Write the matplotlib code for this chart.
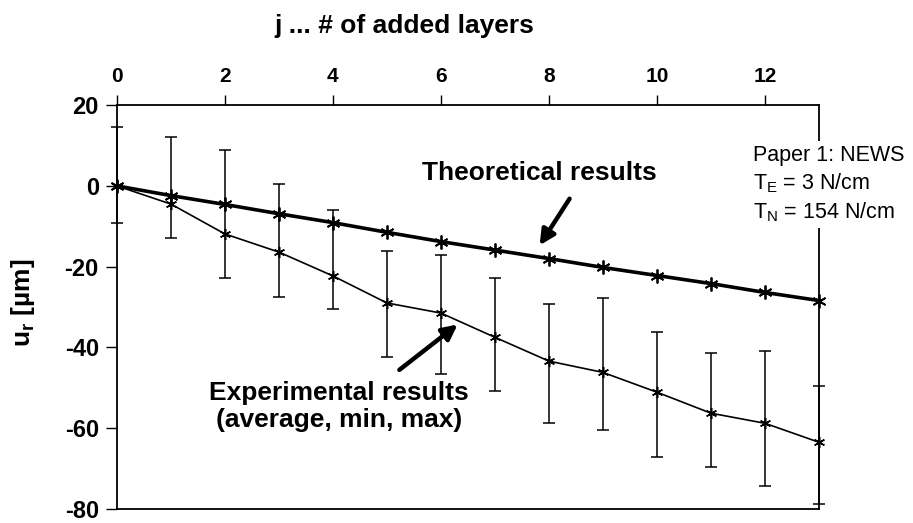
import numpy as np
import matplotlib
matplotlib.use("Agg")
import matplotlib.pyplot as plt

plt.rcParams["font.family"] = ["Liberation Sans", "DejaVu Sans"]
plt.rcParams["mathtext.fontset"] = "custom"
plt.rcParams["mathtext.rm"] = "Liberation Sans"
plt.rcParams["mathtext.bf"] = "Liberation Sans:bold"
plt.rcParams["axes.unicode_minus"] = False

# number of added layers
layers = np.arange(0, 14)

# theoretical radial displacement [um]
theory = [0, -2.4, -4.6, -6.9, -9.1, -11.5, -13.8, -15.9, -18.0, -20.2, -22.2, -24.2, -26.4, -28.4]

# experimental results: average, min, max [um]
exp_avg = [0, -4.5, -11.9, -16.4, -22.3, -29.0, -31.5, -37.5, -43.4, -46.2, -51.1, -56.3, -58.8, -63.5]
exp_min = [-9.2, -12.9, -22.8, -27.4, -30.5, -42.4, -46.6, -50.9, -58.8, -60.5, -67.2, -69.7, -74.4, -78.7]
exp_max = [14.6, 12.2, 8.9, 0.5, -6.0, -16.1, -17.1, -22.8, -29.3, -27.8, -36.2, -41.5, -40.9, -49.6]

fig = plt.figure(figsize=(9.13, 5.23), dpi=100)
ax = fig.add_axes([0.128, 0.027, 0.769, 0.772])

avg = np.array(exp_avg)
yerr = [avg - np.array(exp_min), np.array(exp_max) - avg]

ax.errorbar(layers, exp_avg, yerr=yerr, color="black", lw=1.2, elinewidth=1.1,
            capsize=4, capthick=1.1, marker=(6, 2, 0), ms=8, mew=1.1,
            clip_on=False, zorder=3)
ax.plot(layers, theory, color="black", lw=2.6, marker=(6, 2, 0), ms=10, mew=1.3,
        clip_on=False, zorder=4)

ax.set_xlim(0, 13)
ax.set_ylim(-80, 20)
ax.set_xticks(range(0, 13, 2))
ax.set_yticks(range(-80, 21, 20))
ax.xaxis.tick_top()
ax.xaxis.set_label_position("top")
ax.tick_params(axis="x", direction="out", length=7, width=1, pad=7, labelsize=15)
ax.tick_params(axis="y", direction="out", length=8, width=1, pad=5, labelsize=17)
for lab in ax.get_xticklabels() + ax.get_yticklabels():
    lab.set_fontweight("bold")
for sp in ax.spines.values():
    sp.set_linewidth(1.3)

ax.set_xlabel("j ... # of added layers", fontsize=19, fontweight="bold")
ax.xaxis.set_label_coords(0.41, 1.178)
ax.set_ylabel(r"u$_\mathbf{r}$ [µm]", fontsize=19, fontweight="bold")
ax.yaxis.set_label_coords(-0.114, 0.51)

ax.text(7.82, 3.3, "Theoretical results", fontsize=19, fontweight="bold",
        ha="center", va="center")
ax.text(4.11, -51.2, "Experimental results", fontsize=19, fontweight="bold",
        ha="center", va="center")
ax.text(4.11, -58.0, "(average, min, max)", fontsize=19, fontweight="bold",
        ha="center", va="center")

arrow = dict(arrowstyle="-|>,head_length=0.9,head_width=0.45", color="black", lw=3.2)
ax.annotate("", xy=(7.80, -15.3), xytext=(8.41, -2.6), arrowprops=arrow)
ax.annotate("", xy=(6.35, -33.9), xytext=(5.19, -46.0), arrowprops=arrow)

ax.text(11.78, 0.4, "Paper 1: NEWS\nT$_\\mathregular{E}$ = 3 N/cm\nT$_\\mathregular{N}$ = 154 N/cm",
        fontsize=15.5, ha="left", va="center", linespacing=1.3, clip_on=False,
        bbox=dict(facecolor="white", edgecolor="none", pad=3), zorder=5)

fig.savefig("out.png", dpi=100)
plt.close(fig)
